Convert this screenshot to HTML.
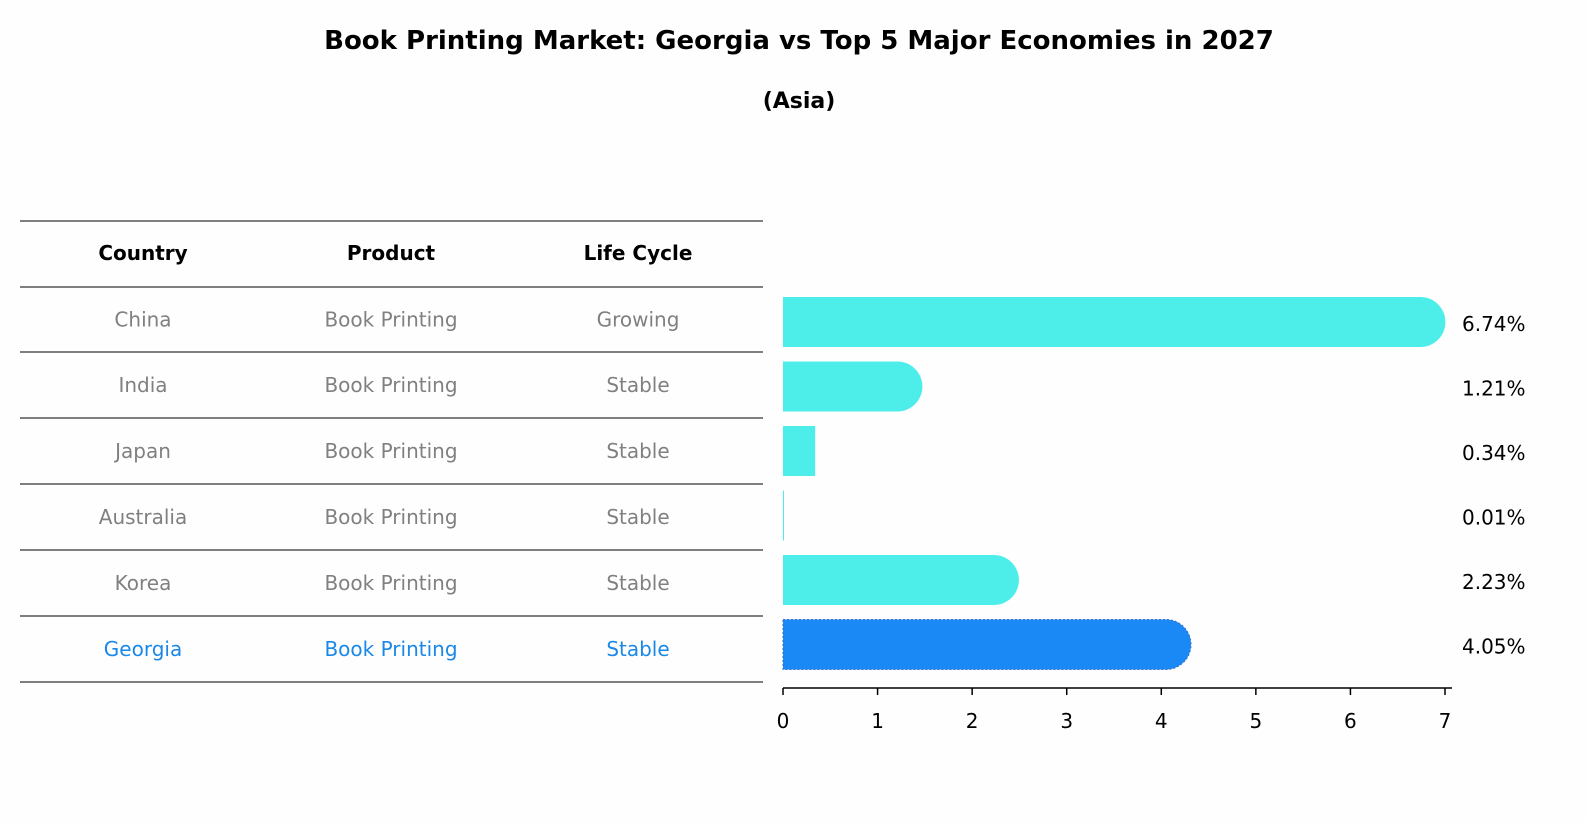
<!DOCTYPE html>
<html><head><meta charset="utf-8"><style>
html,body{margin:0;padding:0;background:#fefefe;overflow:hidden;width:1586px;height:823px;}
svg{display:block;font-family:"DejaVu Sans","Liberation Sans",sans-serif;}
</style></head><body>
<svg id="chart" width="1586" height="823" viewBox="0 0 1586 823">
<rect width="1586" height="823" fill="#fefefe"/>
<text x="799" y="49" text-anchor="middle" font-size="26" font-weight="bold">Book Printing Market: Georgia vs Top 5 Major Economies in 2027</text>
<text x="799" y="108" text-anchor="middle" font-size="22" font-weight="bold">(Asia)</text>
<g id="table"></g>
<g id="bars"></g>
</svg>
<script>
const countries=["China","India","Japan","Australia","Korea","Georgia"];
const products=["Book Printing","Book Printing","Book Printing","Book Printing","Book Printing","Book Printing"];
const lifeCycles=["Growing","Stable","Stable","Stable","Stable","Stable"];
const values=[6.74,1.21,0.34,0.01,2.23,4.05];
const valueLabels=["6.74%","1.21%","0.34%","0.01%","2.23%","4.05%"];
const ticks=[0,1,2,3,4,5,6,7];
const NS="http://www.w3.org/2000/svg";
function mk(tag,attrs,parent){const e=document.createElementNS(NS,tag);for(const k in attrs)e.setAttribute(k,attrs[k]);parent.appendChild(e);return e;}
const x0=783,pxPer=(1445-783)/7;
const xs=v=>x0+v*pxPer;
const rowY=i=>322+i*64.5;
const tbl=document.getElementById('table');
const lineYs=[221,287,352,418,484,550,616,682];
lineYs.forEach((y,i)=>{const l=mk('line',{x1:20,x2:763,y1:y,y2:y,stroke:'#000','stroke-width':1},tbl);

});
const colX=[143,391,638];
["Country","Product","Life Cycle"].forEach((h,j)=>{const t=mk('text',{x:colX[j],y:260,'text-anchor':'middle','font-size':20,'font-weight':'bold'},tbl);t.textContent=h;

});
countries.forEach((c,i)=>{const y=(lineYs[i+1]+lineYs[i+2])/2+7;const col=i===countries.length-1?'#1a88e8':'#808080';
[c,products[i],lifeCycles[i]].forEach((v,j)=>{const t=mk('text',{x:colX[j],y:y,'text-anchor':'middle','font-size':20,fill:col},tbl);t.textContent=v;

});});
const g=document.getElementById('bars');
const h=50,r=25;
values.forEach((v,i)=>{const yc=rowY(i),w=xs(v)-x0;const isG=i===values.length-1;const fill=isG?'#1a88f5':'#4deeea';
let d;
if(w>h){d=`M${x0},${yc-h/2} H${x0+w} A${r},${r} 0 0 1 ${x0+w},${yc+h/2} H${x0} Z`;}
else{d=`M${x0},${yc-h/2} H${x0+Math.max(w,1)} V${yc+h/2} H${x0} Z`;}
const p=mk('path',{d:d,fill:fill},g);
if(isG){p.setAttribute('stroke','#3a70c0');p.setAttribute('stroke-dasharray','2,2');}


const t=mk('text',{x:1462,y:yc+9,'font-size':20},g);t.textContent=valueLabels[i];

});
const ax=mk('line',{x1:x0,x2:1452,y1:688,y2:688,stroke:'#000','stroke-width':1.5},g);


ticks.forEach(tv=>{const x=xs(tv);const l=mk('line',{x1:x,x2:x,y1:688,y2:695,stroke:'#000','stroke-width':1.5},g);


const t=mk('text',{x:x,y:728,'text-anchor':'middle','font-size':20},g);t.textContent=tv;

});
</script>
</body></html>
